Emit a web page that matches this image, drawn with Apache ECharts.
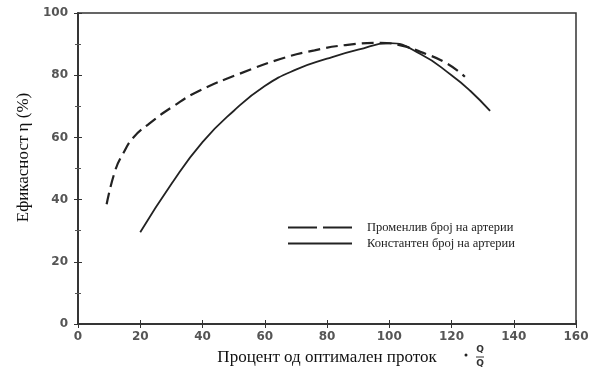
<!DOCTYPE html>
<html><head><meta charset="utf-8">
<script src="https://cdn.jsdelivr.net/npm/echarts@6/dist/echarts.min.js"></script>
<style>html,body{margin:0;padding:0;background:#fff}#c{width:598px;height:378px}</style>
</head><body><div id="c"></div>
<script>
const seriesNames = ['Променлив број на артерии', 'Константен број на артерии'];
const variableX = [9.2, 12, 14.6, 17.8, 23, 30.6, 39, 52, 65, 76, 86, 97, 104, 110, 118.5, 124.3];
const variableY = [38.5, 49.5, 55, 60, 64.5, 70, 75, 80.5, 85.2, 88, 89.7, 90.4, 89.5, 87.5, 83.8, 79.5];
const constantX = [20, 30, 40, 50, 60, 70, 80, 90, 100, 110, 120, 126, 132.4];
const constantY = [29.5, 45, 58.5, 68.5, 76.5, 81.8, 85.3, 88.2, 90.3, 86.8, 80, 75, 68.5];
const xTicks = [0, 20, 40, 60, 80, 100, 120, 140, 160];
const yTicks = [0, 20, 40, 60, 80, 100];
const xTitle = 'Процент од оптимален проток';
const yTitle = 'Ефикасност η (%)';

const zip = (xs, ys) => xs.map((x, i) => [x, ys[i]]);
const serif = '"Liberation Serif", "DejaVu Serif", serif';
const sans = '"DejaVu Sans", "Liberation Sans", sans-serif';
const ink = '#222';

const chart = echarts.init(document.getElementById('c'));
chart.setOption({
  animation: false,
  backgroundColor: '#fff',
  grid: { left: 78, right: 22, top: 13, bottom: 54, show: true, borderColor: '#333', borderWidth: 1.5 },
  legend: {
    orient: 'vertical', left: 283, top: 216, itemWidth: 64, itemHeight: 2.4, itemGap: 3,
    textStyle: { fontFamily: serif, fontSize: 12.5, color: '#222', padding: [0, 0, 0, 10] },
    itemStyle: { color: ink },
    data: [
      { name: seriesNames[0], icon: 'path://M0,0h29v2h-29z M35,0h29v2h-29z' },
      { name: seriesNames[1], icon: 'path://M0,0h64v2h-64z' }
    ]
  },
  xAxis: [{
    type: 'value', min: 0, max: 160, interval: 20,
    name: xTitle, nameLocation: 'middle', nameGap: 25,
    nameTextStyle: { fontFamily: serif, fontSize: 17, color: '#111' },
    axisLine: { lineStyle: { color: '#333', width: 1.5 } },
    axisTick: { inside: true, length: 4, lineStyle: { color: '#333' } },
    axisLabel: { fontFamily: sans, fontSize: 12, fontWeight: 'bold', color: '#555', margin: 7,
      formatter: v => xTicks.includes(v) ? String(v) : '' },
    splitLine: { show: false }
  }, {
    type: 'value', position: 'top', min: 0, max: 160, interval: 20,
    axisLine: { show: true, lineStyle: { color: '#333', width: 1.5 } },
    axisTick: { show: true, inside: true, length: 4, lineStyle: { color: '#333' } },
    axisLabel: { show: false }, splitLine: { show: false }
  }],
  yAxis: [{
    type: 'value', min: 0, max: 100, interval: 20,
    name: yTitle, nameLocation: 'middle', nameGap: 33,
    nameTextStyle: { fontFamily: serif, fontSize: 17, color: '#111', padding: [0, 0, 0, 22] },
    axisLine: { show: true, lineStyle: { color: '#333', width: 1.5 } },
    axisTick: { show: true, inside: true, length: 4, lineStyle: { color: '#333' } },
    minorTick: { show: true, splitNumber: 2, length: 3, lineStyle: { color: '#555' } },
    axisLabel: { fontFamily: sans, fontSize: 12, fontWeight: 'bold', color: '#555', margin: 10,
      formatter: v => yTicks.includes(v) ? String(v) : '' },
    splitLine: { show: false }
  }, {
    type: 'value', position: 'right', min: 0, max: 100, interval: 20,
    axisLine: { show: true, lineStyle: { color: '#333', width: 1.5 } },
    axisTick: { show: true, inside: true, length: 4, lineStyle: { color: '#333' } },
    minorTick: { show: true, splitNumber: 2, length: 3, lineStyle: { color: '#555' } },
    axisLabel: { show: false }, splitLine: { show: false }
  }],
  series: [{
    name: seriesNames[0], type: 'line', smooth: 0.5, showSymbol: false, symbol: 'none',
    data: zip(variableX, variableY),
    lineStyle: { color: ink, width: 2.2, type: [12, 6] }, itemStyle: { color: ink }
  }, {
    name: seriesNames[1], type: 'line', smooth: 0.5, showSymbol: false, symbol: 'none',
    data: zip(constantX, constantY),
    lineStyle: { color: ink, width: 1.8 }, itemStyle: { color: ink }
  }],
  graphic: [
    { type: 'circle', shape: { cx: 466, cy: 355, r: 1.5 }, style: { fill: '#222' } },
    { type: 'group', x: 480, y: 357, children: [
      { type: 'text', x: 0, y: -7, style: { text: 'Q', font: 'bold 9px ' + sans, fill: '#333', align: 'center', verticalAlign: 'middle' } },
      { type: 'line', shape: { x1: -4, y1: 0, x2: 4, y2: 0 }, style: { stroke: '#333', lineWidth: 1 } },
      { type: 'text', x: 0, y: 7, style: { text: 'Q', font: 'bold 9px ' + sans, fill: '#333', align: 'center', verticalAlign: 'middle' } }
    ] }
  ]
});
</script></body></html>
